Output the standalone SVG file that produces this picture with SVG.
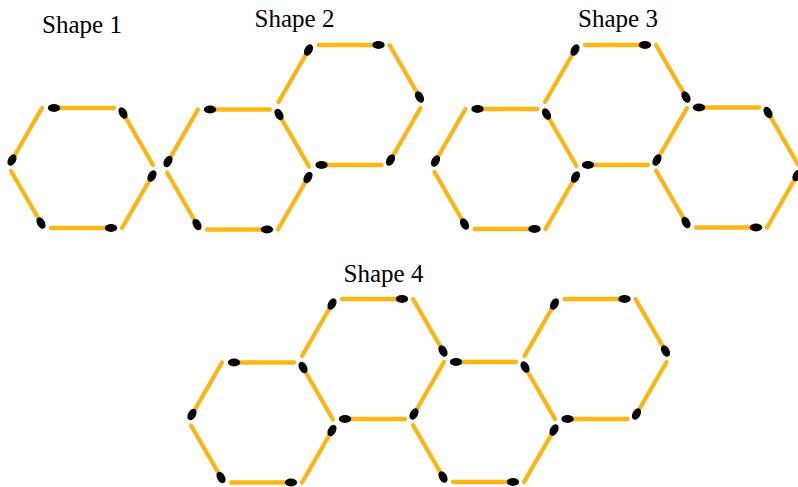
<svg xmlns="http://www.w3.org/2000/svg" xmlns:xlink="http://www.w3.org/1999/xlink" width="798" height="487" viewBox="0 0 798 487">
  <style>
    .s { stroke: #FBB615; stroke-width: 4.3; stroke-linecap: round; fill: none; }
    .h { fill: #000000; }
    .t { font-family: "Liberation Serif", "Times New Roman", serif; font-size: 25px; fill: #000000; text-anchor: middle; }
  </style>
  <defs>
    <g id="m">
      <line class="s" x1="0" y1="0" x2="60" y2="0"/>
      <ellipse class="h" cx="0" cy="0" rx="6.2" ry="3.9"/>
    </g>
  </defs>
  <rect x="0" y="0" width="798" height="487" fill="#ffffff"/>

  <g id="labels">
    <text class="t" x="82" y="33">Shape 1</text>
    <text class="t" x="294.5" y="27">Shape 2</text>
    <text class="t" x="618" y="27">Shape 3</text>
    <text class="t" x="383.5" y="282">Shape 4</text>
  </g>

  <g id="connectors">
    <!-- Shape 1 -->
    <g id="shape1-hex1" transform="translate(82,168)">
      <use href="#m" transform="translate(-28,-60)"/>
      <use href="#m" transform="translate(41,-55) rotate(60)"/>
      <use href="#m" transform="translate(70,8) rotate(120)"/>
      <use href="#m" transform="translate(29,60) rotate(180)"/>
      <use href="#m" transform="translate(-41,55) rotate(240)"/>
      <use href="#m" transform="translate(-70,-8) rotate(300)"/>
    </g>

    <!-- Shape 2 -->
    <g id="shape2-hex1" transform="translate(238,169.5)">
      <use href="#m" transform="translate(-28,-60)"/>
      <use href="#m" transform="translate(41,-55) rotate(60)"/>
      <use href="#m" transform="translate(70,8) rotate(120)"/>
      <use href="#m" transform="translate(29,60) rotate(180)"/>
      <use href="#m" transform="translate(-41,55) rotate(240)"/>
      <use href="#m" transform="translate(-70,-8) rotate(300)"/>
    </g>
    <g id="shape2-hex2" transform="translate(349.5,105)">
      <use href="#m" transform="translate(-28,60)"/>
      <use href="#m" transform="translate(41,55) rotate(-60)"/>
      <use href="#m" transform="translate(70,-8) rotate(-120)"/>
      <use href="#m" transform="translate(29,-60) rotate(180)"/>
      <use href="#m" transform="translate(-41,-55) rotate(120)"/>
    </g>

    <!-- Shape 3 -->
    <g id="shape3-hex1" transform="translate(505.5,169)">
      <use href="#m" transform="translate(-28,-60)"/>
      <use href="#m" transform="translate(41,-55) rotate(60)"/>
      <use href="#m" transform="translate(70,8) rotate(120)"/>
      <use href="#m" transform="translate(29,60) rotate(180)"/>
      <use href="#m" transform="translate(-41,55) rotate(240)"/>
      <use href="#m" transform="translate(-70,-8) rotate(300)"/>
    </g>
    <g id="shape3-hex2" transform="translate(616,105)">
      <use href="#m" transform="translate(-28,60)"/>
      <use href="#m" transform="translate(41,55) rotate(-60)"/>
      <use href="#m" transform="translate(70,-8) rotate(-120)"/>
      <use href="#m" transform="translate(29,-60) rotate(180)"/>
      <use href="#m" transform="translate(-41,-55) rotate(120)"/>
    </g>
    <g id="shape3-hex3" transform="translate(727,167.5)">
      <use href="#m" transform="translate(-28,-60)"/>
      <use href="#m" transform="translate(41,-55) rotate(60)"/>
      <use href="#m" transform="translate(70,8) rotate(120)"/>
      <use href="#m" transform="translate(29,60) rotate(180)"/>
      <use href="#m" transform="translate(-41,55) rotate(240)"/>
    </g>

    <!-- Shape 4 -->
    <g id="shape4-hex1" transform="translate(262,422.5)">
      <use href="#m" transform="translate(-28,-60)"/>
      <use href="#m" transform="translate(41,-55) rotate(60)"/>
      <use href="#m" transform="translate(70,8) rotate(120)"/>
      <use href="#m" transform="translate(29,60) rotate(180)"/>
      <use href="#m" transform="translate(-41,55) rotate(240)"/>
      <use href="#m" transform="translate(-70,-8) rotate(300)"/>
    </g>
    <g id="shape4-hex2" transform="translate(373,359)">
      <use href="#m" transform="translate(-28,60)"/>
      <use href="#m" transform="translate(41,55) rotate(-60)"/>
      <use href="#m" transform="translate(70,-8) rotate(-120)"/>
      <use href="#m" transform="translate(29,-60) rotate(180)"/>
      <use href="#m" transform="translate(-41,-55) rotate(120)"/>
    </g>
    <g id="shape4-hex3" transform="translate(484,422)">
      <use href="#m" transform="translate(-28,-60)"/>
      <use href="#m" transform="translate(41,-55) rotate(60)"/>
      <use href="#m" transform="translate(70,8) rotate(120)"/>
      <use href="#m" transform="translate(29,60) rotate(180)"/>
      <use href="#m" transform="translate(-41,55) rotate(240)"/>
    </g>
    <g id="shape4-hex4" transform="translate(595.5,359)">
      <use href="#m" transform="translate(-28,60)"/>
      <use href="#m" transform="translate(41,55) rotate(-60)"/>
      <use href="#m" transform="translate(70,-8) rotate(-120)"/>
      <use href="#m" transform="translate(29,-60) rotate(180)"/>
      <use href="#m" transform="translate(-41,-55) rotate(120)"/>
    </g>
  </g>
</svg>
